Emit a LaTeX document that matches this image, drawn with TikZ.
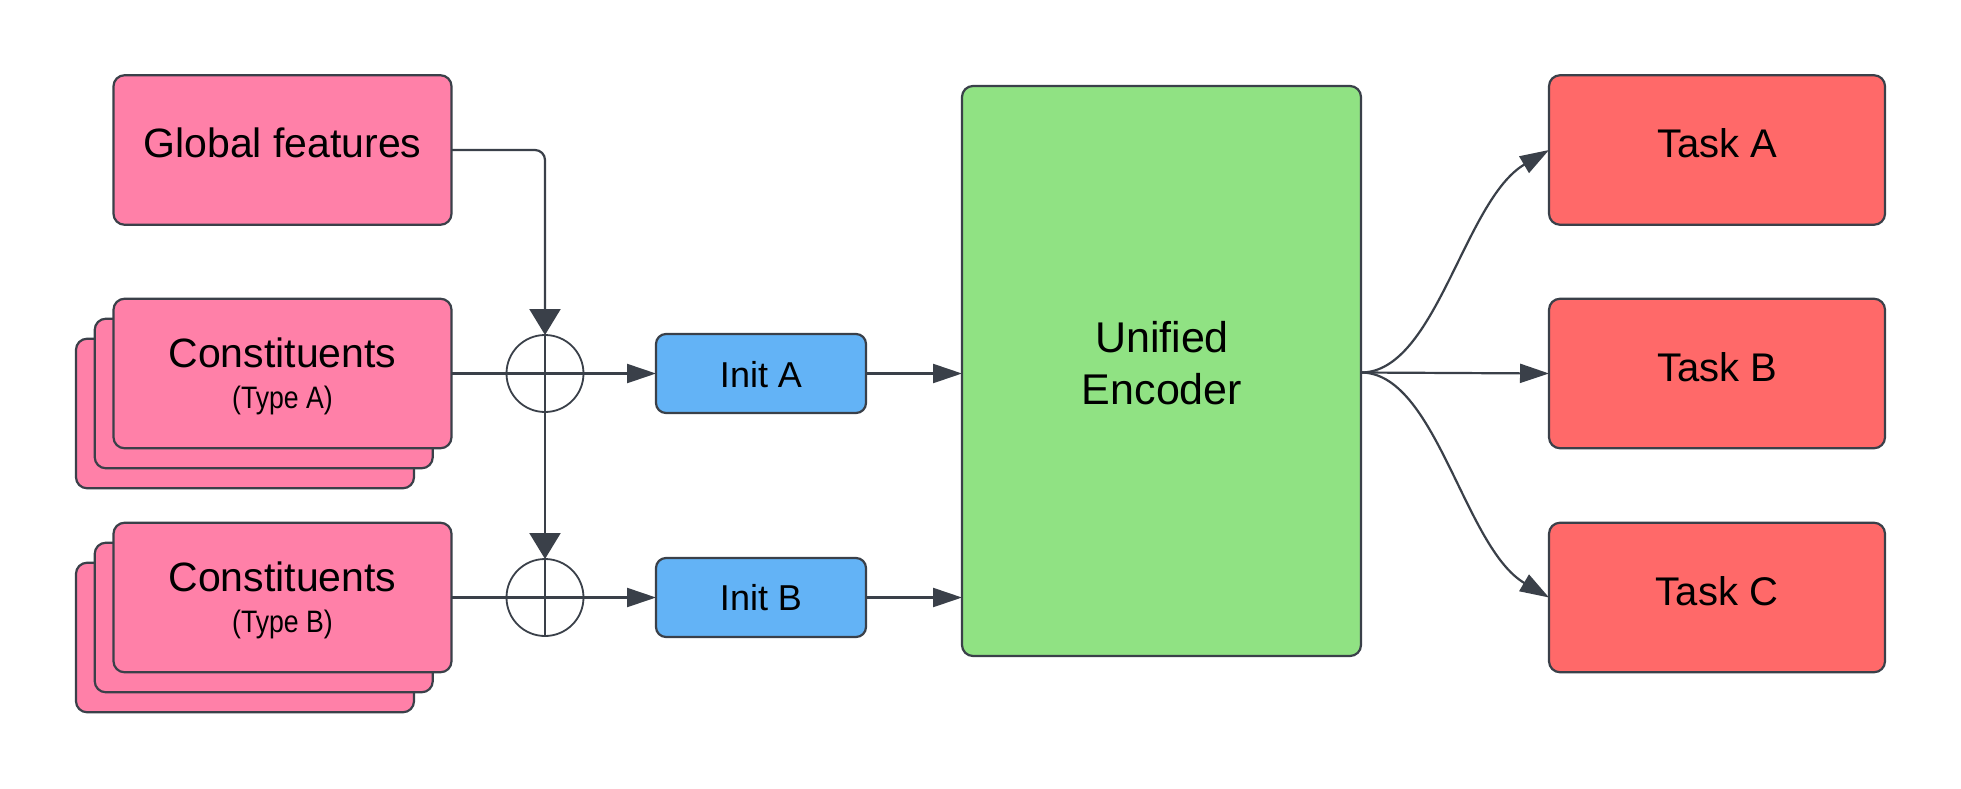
\documentclass[tikz,border=0pt]{standalone}
\usepackage{fontspec}
\setmainfont{Liberation Sans}
\newfontfamily\narrowfam[FakeStretch=0.86]{Liberation Sans}
\usetikzlibrary{arrows.meta}
\definecolor{strk}{HTML}{3A4049}
\definecolor{pinkc}{HTML}{FF80A8}
\definecolor{greenc}{HTML}{90E283}
\definecolor{bluec}{HTML}{63B3F6}
\definecolor{redc}{HTML}{FF6969}
\tikzset{
  shapebox/.style={draw=strk, line width=2.2pt, rounded corners=11pt, inner sep=0pt, outer sep=0pt},
  bigbox/.style={shapebox, minimum width=338pt, minimum height=149.5pt},
  smallbox/.style={shapebox, fill=bluec, rounded corners=10pt, minimum width=210pt, minimum height=79pt},
  conn/.style={draw=strk, line width=2.2pt},
  harr/.style={-{Triangle[length=29pt,width=19pt]}},
  varr/.style={-{Triangle[length=26pt,width=31pt]}},
  plus/.style={circle, draw=strk, line width=1.8pt, minimum size=77pt, inner sep=0pt, outer sep=0pt},
  lbl/.style={anchor=base, inner sep=0pt, font=\fontsize{41}{49}\selectfont},
  sublbl/.style={anchor=base, inner sep=0pt, font=\narrowfam\fontsize{31}{37}\selectfont},
  initlbl/.style={anchor=base, inner sep=0pt, font=\fontsize{36}{43}\selectfont},
  enclbl/.style={anchor=base, inner sep=0pt, font=\fontsize{43}{52}\selectfont},
  tasklbl/.style={anchor=base, inner sep=0pt, font=\fontsize{40}{48}\selectfont},
}
\begin{document}
\begin{tikzpicture}[x=1pt,y=-1pt]
\fill[white] (0,0) rectangle (1961,788);
\useasboundingbox (0,0) rectangle (1961,788);

% Global features
\node[bigbox, fill=pinkc] (glob) at (282.5,150) {};
\node[lbl] (globt) at (282.5,157) {Global features};

% Constituents type A (stack)
\node[bigbox, fill=pinkc] (consA3) at (245,413.5) {};
\node[bigbox, fill=pinkc] (consA2) at (263.75,393.5) {};
\node[bigbox, fill=pinkc] (consA) at (282.5,373.5) {};
\node[lbl] (consAt) at (282.5,367) {Constituents};
\node[sublbl] (consAs) at (282.5,408) {(Type A)};

% Constituents type B (stack)
\node[bigbox, fill=pinkc] (consB3) at (245,637.5) {};
\node[bigbox, fill=pinkc] (consB2) at (263.75,617.5) {};
\node[bigbox, fill=pinkc] (consB) at (282.5,597.5) {};
\node[lbl] (consBt) at (282.5,591) {Constituents};
\node[sublbl] (consBs) at (282.5,632) {(Type B)};

% Init boxes
\node[smallbox] (initA) at (761,373.5) {};
\node[initlbl] (initAt) at (761,387) {Init A};
\node[smallbox] (initB) at (761,597.5) {};
\node[initlbl] (initBt) at (761,610.5) {Init B};

% Encoder
\node[shapebox, fill=greenc, minimum width=399pt, minimum height=570pt] (enc) at (1161.5,371) {};
\node[enclbl] (enct1) at (1162,352) {Unified};
\node[enclbl] (enct2) at (1162,404) {Encoder};

% Tasks
\node[bigbox, fill=redc, minimum width=336pt] (taskA) at (1717,150) {};
\node[tasklbl] (taskAt) at (1717,157) {Task A};
\node[bigbox, fill=redc, minimum width=336pt] (taskB) at (1717,373.5) {};
\node[tasklbl] (taskBt) at (1717,381) {Task B};
\node[bigbox, fill=redc, minimum width=336pt] (taskC) at (1717,597.5) {};
\node[tasklbl] (taskCt) at (1717,605) {Task C};

% Plus circles
\node[plus] (plusA) at (545,373.5) {};
\node[plus] (plusB) at (545,597.5) {};
\draw[conn, line width=2pt] (plusA.north) -- (plusA.south);
\draw[conn, line width=2pt] (plusB.north) -- (plusB.south);

% Connectors
\draw[conn, varr, rounded corners=10pt] (glob.east) -- (glob.east -| plusA.north) -- (plusA.north);
\draw[conn, harr] (consA.east) -- (initA.west);
\draw[conn, varr] (plusA.south) -- (plusB.north);
\draw[conn, harr] (consB.east) -- (initB.west);
\draw[conn, harr] (initA.east) -- (initA.east -| enc.west);
\draw[conn, harr] (initB.east) -- (initB.east -| enc.west);

\coordinate (encout) at ([yshift=-1.5pt]enc.east);
\draw[conn, harr] (encout) .. controls +(75,0) and +(-85,50) .. (taskA.west);
\draw[conn, harr] (encout) -- (taskB.west);
\draw[conn, harr] (encout) .. controls +(75,0) and +(-85,-50) .. (taskC.west);
\end{tikzpicture}
\end{document}
